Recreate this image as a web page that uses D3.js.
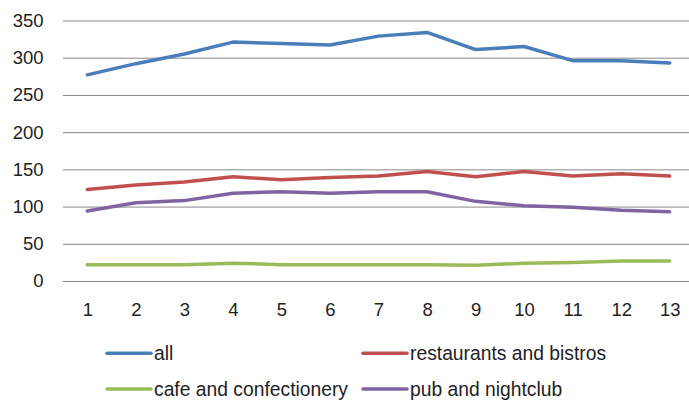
<!DOCTYPE html>
<html>
<head>
<meta charset="utf-8">
<script src="https://cdn.jsdelivr.net/npm/d3@7"></script>
<style>
  html, body { margin: 0; padding: 0; background: #fff; }
  svg { display: block; font-family: "Liberation Sans", Arial, sans-serif; }
</style>
</head>
<body>
<svg id="chart" width="689" height="401"></svg>
<script>
// Periods along the x axis
const periods = [1, 2, 3, 4, 5, 6, 7, 8, 9, 10, 11, 12, 13];

// Counts per venue type
const allVenues      = [277, 292, 305, 321, 319, 317, 329, 334, 311, 315, 296, 296, 293];
const restaurants    = [123, 129, 133, 140, 136, 139, 141, 147, 140, 147, 141, 144, 141];
const cafes          = [22, 22, 22, 24, 22, 22, 22, 22, 21, 24, 25, 27, 27];
const pubs           = [94, 105, 108, 118, 120, 118, 120, 120, 107, 101, 99, 95, 93];

const seriesNames  = ["all", "restaurants and bistros", "cafe and confectionery", "pub and nightclub"];
const seriesValues = [allVenues, restaurants, cafes, pubs];
const seriesColors = ["#4a7ebb", "#c0504d", "#9bbb59", "#8064a2"];

const yTicks = [0, 50, 100, 150, 200, 250, 300, 350];

const svg = d3.select("#chart");
const plot = { left: 63, right: 694, top: 20.5, bottom: 281 };

const x = d3.scalePoint().domain(periods).range([plot.left, plot.right]).padding(0.5);
const y = d3.scaleLinear().domain([0, 350]).range([plot.bottom, plot.top]);

// Horizontal gridlines with value labels
const yAxis = svg.append("g")
  .attr("transform", `translate(${plot.left},0)`)
  .call(d3.axisLeft(y).tickValues(yTicks).tickSize(-(plot.right - plot.left)).tickPadding(19.5));
yAxis.select(".domain").remove();
yAxis.selectAll(".tick line").attr("stroke", "#878787").attr("stroke-width", 1);
yAxis.selectAll(".tick text").attr("fill", "#222").style("font-size", "18.5px");

// Period labels
const xAxis = svg.append("g")
  .attr("transform", `translate(0,${plot.bottom})`)
  .call(d3.axisBottom(x).tickSize(0).tickPadding(22));
xAxis.select(".domain").remove();
xAxis.selectAll(".tick text").attr("fill", "#222").style("font-size", "18.5px");

// Series lines
const line = d3.line().x((d, i) => x(periods[i])).y(d => y(d));
svg.append("g").selectAll("path")
  .data(seriesValues)
  .join("path")
  .attr("d", line)
  .attr("fill", "none")
  .attr("stroke", (d, i) => seriesColors[i])
  .attr("stroke-width", 3.5)
  .attr("stroke-linejoin", "round")
  .attr("stroke-linecap", "round");

// Legend, two columns by two rows
const legendCols = [107, 363];
const legendRows = [353.3, 389];
const legend = svg.append("g").selectAll("g")
  .data(seriesNames)
  .join("g")
  .attr("transform", (d, i) => `translate(${legendCols[i % 2]},${legendRows[Math.floor(i / 2)]})`);
legend.append("line")
  .attr("x1", 0).attr("x2", 44)
  .attr("stroke", (d, i) => seriesColors[i])
  .attr("stroke-width", 3.5)
  .attr("stroke-linecap", "round");
legend.append("text")
  .attr("x", 47)
  .attr("dy", "0.35em")
  .attr("fill", "#222")
  .style("font-size", "19.3px")
  .text(d => d);
</script>
</body>
</html>
